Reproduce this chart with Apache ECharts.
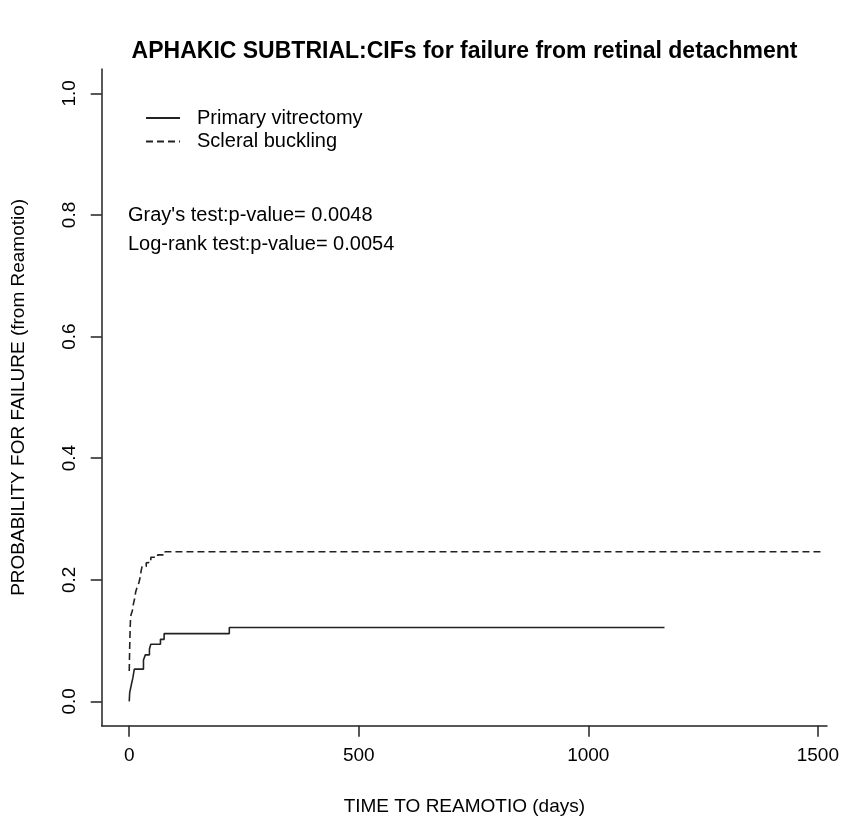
<!DOCTYPE html>
<html>
<head>
<meta charset="utf-8">
<script src="https://cdn.jsdelivr.net/npm/echarts@6/dist/echarts.min.js"></script>
<style>
  html, body { margin: 0; padding: 0; background: #fff; }
  #chart { width: 843px; height: 825px; }
</style>
</head>
<body>
<div id="chart"></div>
<script>
// Cumulative incidence of failure, by treatment arm (step functions)
const vitrectomyDays = [0, 1, 5, 8, 11, 31, 35, 44, 47, 68, 76, 218, 1166];
const vitrectomyCIF  = [0, 0.0145, 0.029, 0.039, 0.053, 0.068, 0.0765, 0.086, 0.094, 0.102, 0.1115, 0.1215, 0.1215];

const bucklingDays = [0, 1, 2, 3, 7, 9, 12, 14, 18, 21, 24, 26, 28, 37, 42, 47, 62, 78, 1512];
const bucklingCIF  = [0.05, 0.09, 0.12, 0.14, 0.15, 0.16, 0.17, 0.18, 0.19, 0.195, 0.205, 0.215, 0.222, 0.228, 0.232, 0.237, 0.241, 0.246, 0.246];

const xTicks = [0, 500, 1000, 1500];
const yTicks = [0, 0.2, 0.4, 0.6, 0.8, 1.0];

const seriesNames = ['Primary vitrectomy', 'Scleral buckling'];
const testLines = ["Gray's test:p-value= 0.0048", 'Log-rank test:p-value= 0.0054'];

const zip = (xs, ys) => xs.map((x, i) => [x, ys[i]]);

const ink = '#222';
const font = '"Liberation Sans", Arial, sans-serif';

const chart = echarts.init(document.getElementById('chart'), null, { renderer: 'canvas' });

chart.setOption({
  backgroundColor: '#fff',
  animation: false,
  title: {
    text: 'APHAKIC SUBTRIAL:CIFs for failure from retinal detachment',
    left: 459.5,
    top: 35,
    textAlign: 'center',
    textStyle: { fontFamily: font, fontWeight: 'bold', fontSize: 23, color: '#000' }
  },
  grid: { left: 101.7, right: 16, top: 69, bottom: 99.3, containLabel: false },
  legend: {
    orient: 'vertical',
    left: 140,
    top: 103,
    itemWidth: 34,
    itemHeight: 14,
    itemGap: 3.5,
    data: seriesNames,
    itemStyle: { opacity: 0 },
    textStyle: { fontFamily: font, fontSize: 20, color: '#000', padding: [0, 0, 0, 12] }
  },
  xAxis: {
    type: 'value',
    min: -60,
    max: 1520,
    splitLine: { show: false },
    axisLine: { show: true, onZero: false, lineStyle: { color: ink, width: 1.5 } },
    axisTick: { show: true, customValues: xTicks, length: 11, lineStyle: { color: ink, width: 1.5 } },
    axisLabel: {
      customValues: xTicks, margin: 21,
      fontFamily: font, fontSize: 19, color: '#000',
      formatter: v => String(v)
    },
    name: 'TIME TO REAMOTIO (days)',
    nameLocation: 'middle',
    nameGap: 72,
    nameTextStyle: { fontFamily: font, fontSize: 19, color: '#000' }
  },
  yAxis: {
    type: 'value',
    min: -0.04,
    max: 1.04,
    splitLine: { show: false },
    axisLine: { show: true, onZero: false, lineStyle: { color: ink, width: 1.5 } },
    axisTick: { show: true, customValues: yTicks, length: 11, lineStyle: { color: ink, width: 1.5 } },
    axisLabel: {
      customValues: yTicks,
      rotate: 90,
      margin: 22,
      fontFamily: font, fontSize: 19, color: '#000',
      formatter: v => v.toFixed(1)
    },
    name: 'PROBABILITY FOR FAILURE (from Reamotio)',
    nameLocation: 'middle',
    nameRotate: 90,
    nameGap: 73,
    nameTextStyle: { fontFamily: font, fontSize: 19, color: '#000' }
  },
  series: [
    {
      name: seriesNames[0],
      type: 'line',
      step: 'end',
      symbol: 'none',
      data: zip(vitrectomyDays, vitrectomyCIF),
      lineStyle: { color: ink, width: 1.6, type: 'solid' },
      itemStyle: { color: ink }
    },
    {
      name: seriesNames[1],
      type: 'line',
      step: 'end',
      symbol: 'none',
      data: zip(bucklingDays, bucklingCIF),
      lineStyle: { color: ink, width: 1.6, type: [7, 4] },
      itemStyle: { color: ink }
    }
  ],
  graphic: testLines.map((t, i) => ({
    type: 'text',
    left: 128,
    top: 205 + i * 29,
    style: { text: t, fontFamily: font, fontSize: 20, fill: '#000' }
  }))
});
</script>
</body>
</html>
